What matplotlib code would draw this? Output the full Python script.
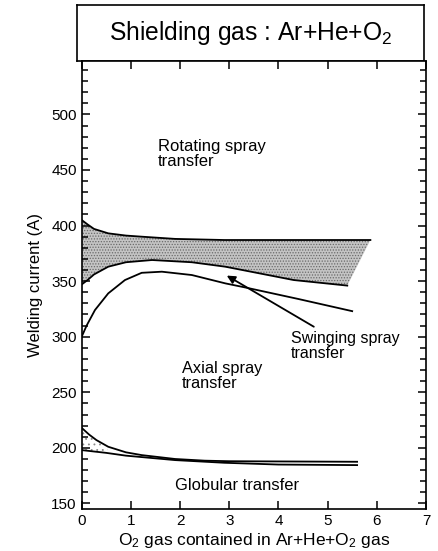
import matplotlib
matplotlib.use("Agg")
import matplotlib.pyplot as plt
from matplotlib.ticker import MultipleLocator

plt.rcParams["font.family"] = ["Liberation Sans", "DejaVu Sans"]
plt.rcParams["hatch.linewidth"] = 0.6

# O2 content (%) vs welding current (A) for each transition curve
o2_rot_top = [0, 0.12, 0.25, 0.54, 0.9, 1.22, 1.9, 2.9, 4.3, 5.87]
cur_rot_top = [405, 401, 397, 393, 391, 390, 388, 387, 387, 387]

o2_rot_bot = [0, 0.12, 0.25, 0.54, 0.9, 1.43, 2.24, 2.92, 4.31, 5.4]
cur_rot_bot = [347, 351, 356, 363, 367, 369, 367, 363, 351, 346]

o2_axial = [0, 0.1, 0.27, 0.54, 0.88, 1.22, 1.63, 2.24, 2.92, 3.36, 4.4, 5.5]
cur_axial = [300, 310, 324, 339, 351, 357.5, 358.5, 355.5, 348, 344, 334, 323]

o2_glob_top = [0, 0.15, 0.3, 0.54, 0.9, 1.22, 1.9, 2.5, 3, 4, 5.6]
cur_glob_top = [218, 212, 207, 201, 196, 193.5, 190, 188.5, 188, 187.8, 187.5]

o2_glob_bot = [0, 0.5, 0.9, 1.9, 2.9, 4, 5.6]
cur_glob_bot = [198, 195.5, 193, 189, 186.6, 185, 184.5]

fig = plt.figure(figsize=(4.38, 5.51), dpi=100)

# header box
tax = fig.add_axes([0.176, 0.889, 0.792, 0.102])
tax.set_xticks([])
tax.set_yticks([])
tax.text(0.5, 0.5, r"Shielding gas : Ar+He+O$\mathregular{_2}$", ha="center", va="center",
         fontsize=17.7, transform=tax.transAxes)

ax = fig.add_axes([0.1865, 0.0762, 0.786, 0.813])

# shaded band between rotating spray curves
band_x = o2_rot_top + o2_rot_bot[::-1]
band_y = cur_rot_top + cur_rot_bot[::-1]
ax.fill(band_x, band_y, facecolor="#c4c4c4", edgecolor="#6a6a6a", hatch="......", lw=0)
ax.plot(o2_rot_top, cur_rot_top, color="black", lw=1.3)
ax.plot(o2_rot_bot, cur_rot_bot, color="black", lw=1.3)
ax.plot(o2_axial, cur_axial, color="black", lw=1.3)

# sparse dots near the start of the globular band
n = 4
gx = o2_glob_top[:n] + o2_glob_bot[:2][::-1]
gy = cur_glob_top[:n] + cur_glob_bot[:2][::-1]
ax.fill(gx, gy, facecolor="none", edgecolor="#888888", hatch="...", lw=0)
ax.plot(o2_glob_top, cur_glob_top, color="black", lw=1.3)
ax.plot(o2_glob_bot, cur_glob_bot, color="black", lw=1.3)

ax.annotate("", xy=(2.95, 355), xytext=(4.72, 309),
            arrowprops=dict(arrowstyle="-|>", color="black", lw=1.3,
                            mutation_scale=12, shrinkA=0, shrinkB=0))

ax.text(1.55, 464, "Rotating spray\ntransfer", fontsize=12, va="center", linespacing=1.0)
ax.text(2.03, 265, "Axial spray\ntransfer", fontsize=11.8, va="center", linespacing=1.0)
ax.text(4.25, 292, "Swinging spray\ntransfer", fontsize=11.5, va="center", linespacing=1.0)
ax.text(1.9, 166, "Globular transfer", fontsize=11.9, va="center")

ax.set_xlim(0, 7)
ax.set_ylim(145, 548)
ax.xaxis.set_major_locator(MultipleLocator(1))
ax.yaxis.set_major_locator(MultipleLocator(50))
ax.yaxis.set_minor_locator(MultipleLocator(10))
ax.tick_params(which="both", direction="in", top=True, right=True, labelsize=11, width=1.1)
ax.tick_params(which="major", length=6)
ax.tick_params(which="minor", length=4)
ax.set_yticks(range(150, 501, 50))

ax.set_xlabel(r"O$\mathregular{_2}$ gas contained in Ar+He+O$\mathregular{_2}$ gas", fontsize=12.5, labelpad=2)
ax.set_ylabel("Welding current (A)", fontsize=12, labelpad=6)
for a in (ax, tax):
    for s in a.spines.values():
        s.set_linewidth(1.2)

fig.savefig("out.png", dpi=100)
